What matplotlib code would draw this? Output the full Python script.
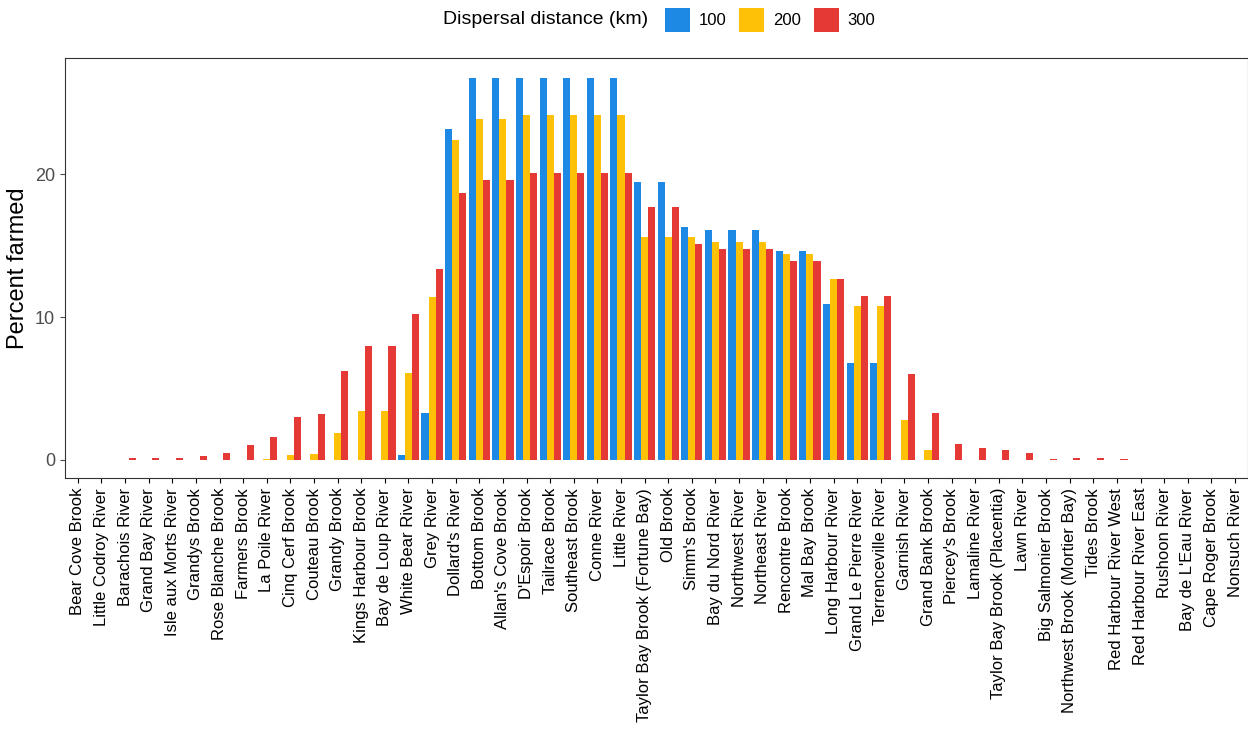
import numpy as np
import matplotlib
matplotlib.use('Agg')
import matplotlib.pyplot as plt

plt.rcParams['font.family'] = ['Liberation Sans', 'DejaVu Sans']

rivers = ["Bear Cove Brook", "Little Codroy River", "Barachois River", "Grand Bay River",
          "Isle aux Morts River", "Grandys Brook", "Rose Blanche Brook", "Farmers Brook",
          "La Poile River", "Cinq Cerf Brook", "Couteau Brook", "Grandy Brook",
          "Kings Harbour Brook", "Bay de Loup River", "White Bear River", "Grey River",
          "Dollard's River", "Bottom Brook", "Allan's Cove Brook", "D'Espoir Brook",
          "Tailrace Brook", "Southeast Brook", "Conne River", "Little River",
          "Taylor Bay Brook (Fortune Bay)", "Old Brook", "Simm's Brook", "Bay du Nord River",
          "Northwest River", "Northeast River", "Rencontre Brook", "Mal Bay Brook",
          "Long Harbour River", "Grand Le Pierre River", "Terrenceville River", "Garnish River",
          "Grand Bank Brook", "Piercey's Brook", "Lamaline River", "Taylor Bay Brook (Placentia)",
          "Lawn River", "Big Salmonier Brook", "Northwest Brook (Mortier Bay)", "Tides Brook",
          "Red Harbour River West", "Red Harbour River East", "Rushoon River",
          "Bay de L'Eau River", "Cape Roger Brook", "Nonsuch River"]

d100 = [0, 0, 0, 0, 0, 0, 0, 0, 0, 0, 0, 0, 0, 0, 0.3, 3.3,
        23.2, 26.8, 26.8, 26.8, 26.8, 26.8, 26.8, 26.8, 19.5, 19.5, 16.3, 16.1,
        16.1, 16.1, 14.6, 14.6, 10.9, 6.8, 6.8, 0, 0, 0, 0, 0,
        0, 0, 0, 0, 0, 0, 0, 0, 0, 0]
d200 = [0, 0, 0, 0, 0, 0, 0, 0, 0.05, 0.3, 0.4, 1.9, 3.4, 3.4, 6.1, 11.4,
        22.4, 23.9, 23.9, 24.2, 24.2, 24.2, 24.2, 24.2, 15.6, 15.6, 15.6, 15.3,
        15.3, 15.3, 14.4, 14.4, 12.7, 10.8, 10.8, 2.8, 0.7, 0, 0, 0,
        0, 0, 0, 0, 0, 0, 0, 0, 0, 0]
d300 = [0, 0, 0.1, 0.1, 0.15, 0.25, 0.45, 1.0, 1.6, 3.0, 3.2, 6.2, 8.0, 8.0, 10.2, 13.4,
        18.7, 19.6, 19.6, 20.1, 20.1, 20.1, 20.1, 20.1, 17.7, 17.7, 15.1, 14.8,
        14.8, 14.8, 13.9, 13.9, 12.7, 11.5, 11.5, 6.0, 3.3, 1.1, 0.8, 0.7,
        0.5, 0.05, 0.1, 0.1, 0.02, 0, 0, 0, 0, 0]

series = [("100", d100, "#1E88E5"), ("200", d200, "#FFC107"), ("300", d300, "#E53935")]

fig = plt.figure(figsize=(12.48, 7.38), dpi=100)
ax = fig.add_axes([0.052, 0.352, 0.948, 0.57])
x = np.arange(len(rivers))
w = 0.3
for i, (lab, vals, col) in enumerate(series):
    ax.bar(x + (i - 1) * w, vals, width=w, color=col, label=lab)

ax.set_xlim(-0.55, len(rivers) - 0.45)
ax.set_ylim(-1.3, 28.2)
ax.set_yticks([0, 10, 20])
ax.set_xticks(x)
ax.set_xticklabels(rivers, rotation=90, fontsize=12)
ax.tick_params(axis='y', labelsize=13, colors='#4d4d4d')
ax.set_ylabel("Percent farmed", fontsize=17)
for s in ax.spines.values():
    s.set_color('#333333')
    s.set_linewidth(0.8)

fig.text(648 / 1248, 1 - 20 / 738, "Dispersal distance (km)", ha='right', va='center', fontsize=14)
fig.legend(loc='center left', bbox_to_anchor=(650 / 1248, 1 - 20 / 738), ncol=3, frameon=False,
           fontsize=12, handlelength=1.5, handleheight=1.8, columnspacing=0.8, handletextpad=0.5)

fig.savefig("out.png", dpi=100)
